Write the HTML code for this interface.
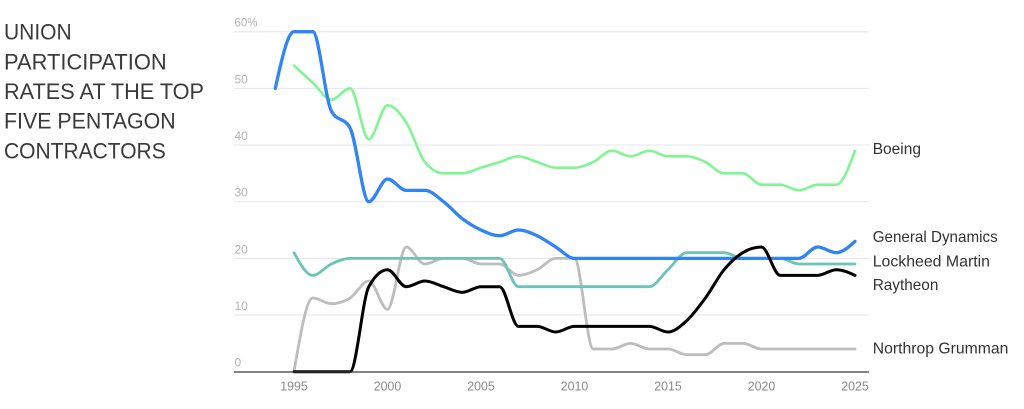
<!DOCTYPE html>
<html>
<head>
<meta charset="utf-8">
<style>
  html, body { margin: 0; padding: 0; background: #ffffff; }
  body { width: 1024px; height: 409px; overflow: hidden; }
  svg { display: block; }
  .title { font-family: "Liberation Sans", sans-serif; font-size: 22px; fill: #3a3a3a; }
  .ylab { font-family: "Liberation Sans", sans-serif; font-size: 12px; fill: #b3b3b3; }
  .xlab { font-family: "Liberation Sans", sans-serif; font-size: 13px; fill: #8a8a8a; }
  .leg { font-family: "Liberation Sans", sans-serif; font-size: 16px; fill: #333333; }
</style>
</head>
<body>
<svg id="chart" width="1024" height="409" viewBox="0 0 1024 409" xmlns="http://www.w3.org/2000/svg">
  <!-- Title -->
  <text class="title" x="4" y="39.3" textLength="67.7" lengthAdjust="spacingAndGlyphs">UNION</text>
  <text class="title" x="4" y="69.3" textLength="162.7" lengthAdjust="spacingAndGlyphs">PARTICIPATION</text>
  <text class="title" x="4" y="99" textLength="200" lengthAdjust="spacingAndGlyphs">RATES AT THE TOP</text>
  <text class="title" x="4" y="128.3" textLength="171.7" lengthAdjust="spacingAndGlyphs">FIVE PENTAGON</text>
  <text class="title" x="4" y="158.3" textLength="161.7" lengthAdjust="spacingAndGlyphs">CONTRACTORS</text>

  <!-- Gridlines -->
  <g stroke="#e6e6e6" stroke-width="1">
    <line x1="234" x2="869" y1="31.7" y2="31.7"/>
    <line x1="234" x2="869" y1="88.4" y2="88.4"/>
    <line x1="234" x2="869" y1="145" y2="145"/>
    <line x1="234" x2="869" y1="201.7" y2="201.7"/>
    <line x1="234" x2="869" y1="258.4" y2="258.4"/>
    <line x1="234" x2="869" y1="315" y2="315"/>
  </g>

  <!-- Y labels -->
  <text class="ylab" x="234.5" y="26.7" textLength="23" lengthAdjust="spacingAndGlyphs">60%</text>
  <text class="ylab" x="234.5" y="83.4">50</text>
  <text class="ylab" x="234.5" y="140">40</text>
  <text class="ylab" x="234.5" y="196.7">30</text>
  <text class="ylab" x="234.5" y="253.4">20</text>
  <text class="ylab" x="234.5" y="310">10</text>
  <text class="ylab" x="234.5" y="366.7">0</text>

  <!-- X labels -->
  <g text-anchor="middle">
    <text class="xlab" x="294" y="390.5" textLength="27.5" lengthAdjust="spacingAndGlyphs">1995</text>
    <text class="xlab" x="387.5" y="390.5" textLength="27.5" lengthAdjust="spacingAndGlyphs">2000</text>
    <text class="xlab" x="481" y="390.5" textLength="27.5" lengthAdjust="spacingAndGlyphs">2005</text>
    <text class="xlab" x="574.5" y="390.5" textLength="27.5" lengthAdjust="spacingAndGlyphs">2010</text>
    <text class="xlab" x="668" y="390.5" textLength="27.5" lengthAdjust="spacingAndGlyphs">2015</text>
    <text class="xlab" x="761.5" y="390.5" textLength="27.5" lengthAdjust="spacingAndGlyphs">2020</text>
    <text class="xlab" x="855" y="390.5" textLength="27.5" lengthAdjust="spacingAndGlyphs">2025</text>
  </g>

  <g id="series" fill="none" stroke-linejoin="round" stroke-linecap="round"></g>

  <!-- Baseline axis -->
  <line x1="234" x2="869" y1="372" y2="372" stroke="#3a3a3a" stroke-width="1.3"/>

  <!-- Legend labels -->
  <text class="leg" x="872.7" y="154" textLength="48.3" lengthAdjust="spacingAndGlyphs">Boeing</text>
  <text class="leg" x="872.7" y="242" textLength="125" lengthAdjust="spacingAndGlyphs">General Dynamics</text>
  <text class="leg" x="872.7" y="266.7" textLength="117.3" lengthAdjust="spacingAndGlyphs">Lockheed Martin</text>
  <text class="leg" x="872.7" y="290" textLength="65.7" lengthAdjust="spacingAndGlyphs">Raytheon</text>
  <text class="leg" x="872.7" y="353.3" textLength="135.7" lengthAdjust="spacingAndGlyphs">Northrop Grumman</text>
</svg>

<script>
(function(){
  function X(year){ return 294 + (year - 1995) * 18.7; }
  function Y(v){ return 371.7 - v * 5.667; }
  function sign(x){ return x < 0 ? -1 : 1; }

  function monotonePath(pts){
    var n = pts.length;
    if (n < 2) return "";
    var t = new Array(n);
    for (var i = 1; i < n - 1; i++){
      var x0=pts[i-1][0], y0=pts[i-1][1], x1=pts[i][0], y1=pts[i][1], x2=pts[i+1][0], y2=pts[i+1][1];
      var h0=x1-x0, h1=x2-x1;
      var s0=(y1-y0)/h0, s1=(y2-y1)/h1;
      var p=(s0*h1+s1*h0)/(h0+h1);
      t[i] = (sign(s0)+sign(s1)) * Math.min(Math.abs(s0), Math.abs(s1), 0.5*Math.abs(p)) || 0;
    }
    if (n === 2){
      var s=(pts[1][1]-pts[0][1])/(pts[1][0]-pts[0][0]);
      t[0]=s; t[1]=s;
    } else {
      var h=pts[1][0]-pts[0][0];
      t[0] = (3*(pts[1][1]-pts[0][1])/h - t[1])/2;
      var hl=pts[n-1][0]-pts[n-2][0];
      t[n-1] = (3*(pts[n-1][1]-pts[n-2][1])/hl - t[n-2])/2;
    }
    var d = "M" + pts[0][0].toFixed(2) + "," + pts[0][1].toFixed(2);
    for (var j = 0; j < n - 1; j++){
      var a=pts[j], b=pts[j+1];
      var dx=(b[0]-a[0])/3;
      d += "C" + (a[0]+dx).toFixed(2) + "," + (a[1]+dx*t[j]).toFixed(2) + " " +
           (b[0]-dx).toFixed(2) + "," + (b[1]-dx*t[j+1]).toFixed(2) + " " +
           b[0].toFixed(2) + "," + b[1].toFixed(2);
    }
    return d;
  }

  function build(start, vals){
    var pts = [];
    for (var i = 0; i < vals.length; i++) pts.push([X(start+i), Y(vals[i])]);
    return monotonePath(pts);
  }

  var series = [
    { color:"#bdbdbd", w:2.8, start:1995, vals:[0,13,12,13,16,11,22,19,20,20,19,19,17,18,20,20,4,4,5,4,4,3,3,5,5,4,4,4,4,4,4] },
    { color:"#6cc4b8", w:2.8, start:1995, vals:[21,17,19,20,20,20,20,20,20,20,20,20,15,15,15,15,15,15,15,15,18,21,21,21,20,20,20,19,19,19,19] },
    { color:"#80f593", w:2.6, start:1995, vals:[54,51,48,50,41,47,44,37,35,35,36,37,38,37,36,36,37,39,38,39,38,38,37,35,35,33,33,32,33,33,39] },
    { color:"#3084f5", w:3.3, start:1994, vals:[50,60,60,46,43,30,34,32,32,30,27,25,24,25,24,22,20,20,20,20,20,20,20,20,20,20,20,20,20,22,21,23] },
    { color:"#000000", w:3.0, start:1995, vals:[0,0,0,0,15,18,15,16,15,14,15,15,8,8,7,8,8,8,8,8,7,9,13,18,21,22,17,17,17,18,17] }
  ];

  var g = document.getElementById("series");
  var ns = "http://www.w3.org/2000/svg";
  series.forEach(function(s){
    var p = document.createElementNS(ns, "path");
    p.setAttribute("d", build(s.start, s.vals));
    p.setAttribute("stroke", s.color);
    p.setAttribute("stroke-width", s.w);
    g.appendChild(p);
  });
})();
</script>
</body>
</html>
